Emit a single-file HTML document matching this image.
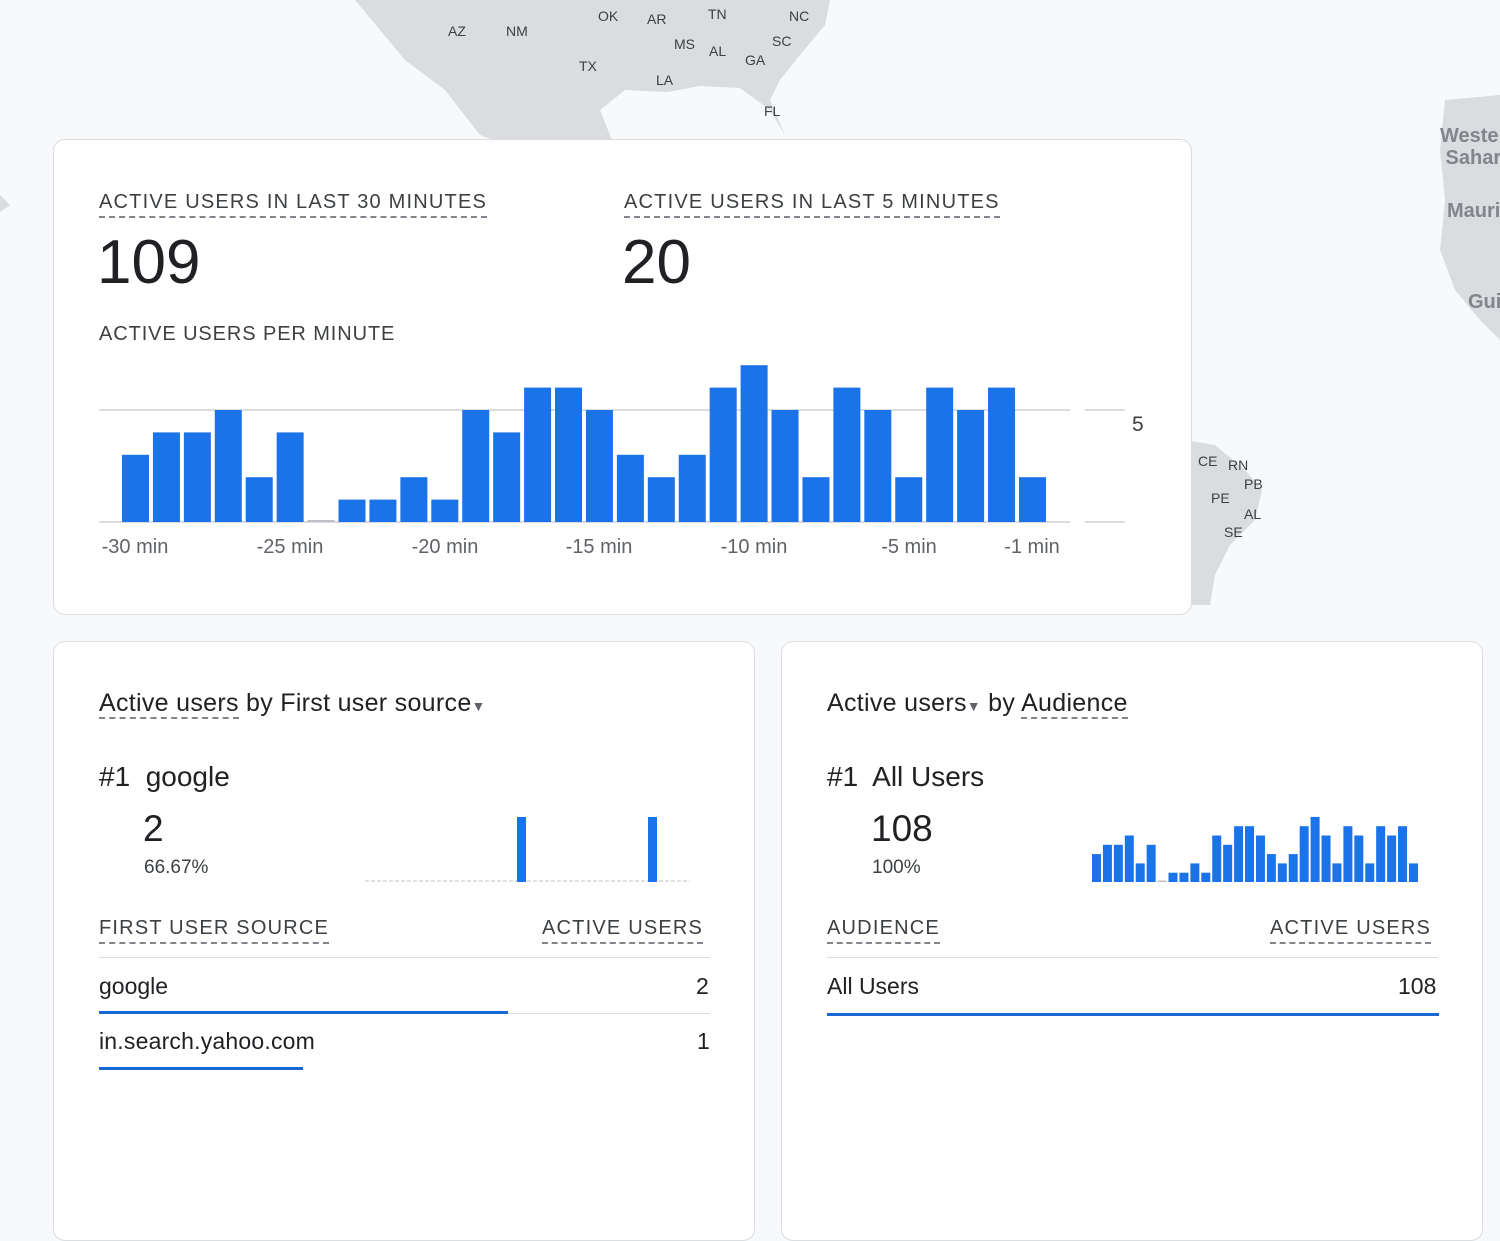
<!DOCTYPE html>
<html><head><meta charset="utf-8"><style>
body{margin:0;width:1500px;height:1214px;background:#f8f9fa;position:relative;overflow:hidden;font-family:"Liberation Sans",Arial,sans-serif;color:#202124}
.a{position:absolute;white-space:nowrap}
.card{position:absolute;background:#fff;border:1.5px solid #dadce0;border-radius:12px;box-sizing:border-box}
.cap{font-size:20px;letter-spacing:1.2px;color:#3c4043;border-bottom:2px dashed #80868b;padding-bottom:2px}
.ml{font-size:14px;color:#3c4043}
.ax{font-size:20px;color:#5f6368;transform:translateX(-50%)}
</style></head><body>
<svg class="a" style="left:0;top:0" width="1500" height="1214">
<polygon points="355,0 830,0 825,25 800,55 780,80 770,100 785,135 770,110 740,88 700,86 668,92 625,90 600,110 612,140 560,150 520,150 480,135 445,90 405,60 380,30" fill="#dadce0"/>
<polygon points="1445,100 1500,95 1500,340 1480,320 1455,290 1440,250 1445,200 1440,150" fill="#dadce0"/>
<polygon points="1185,440 1215,445 1245,470 1262,490 1255,520 1230,545 1215,575 1210,605 1185,605" fill="#dadce0"/>
<polygon points="0,195 10,205 0,212" fill="#dadce0"/>
</svg>
<div class="a ml" style="left:448px;top:23px">AZ</div>
<div class="a ml" style="left:506px;top:23px">NM</div>
<div class="a ml" style="left:598px;top:8px">OK</div>
<div class="a ml" style="left:647px;top:11px">AR</div>
<div class="a ml" style="left:708px;top:6px">TN</div>
<div class="a ml" style="left:789px;top:8px">NC</div>
<div class="a ml" style="left:674px;top:36px">MS</div>
<div class="a ml" style="left:709px;top:43px">AL</div>
<div class="a ml" style="left:772px;top:33px">SC</div>
<div class="a ml" style="left:745px;top:52px">GA</div>
<div class="a ml" style="left:579px;top:58px">TX</div>
<div class="a ml" style="left:656px;top:72px">LA</div>
<div class="a ml" style="left:764px;top:103px">FL</div>
<div class="a" style="left:1440px;top:125px;font-size:20px;font-weight:bold;color:#80868b;line-height:22px">Weste<br>&nbsp;Sahar</div>
<div class="a" style="left:1447px;top:200px;font-size:20px;font-weight:bold;color:#80868b">Mauri</div>
<div class="a" style="left:1468px;top:291px;font-size:20px;font-weight:bold;color:#80868b">Gui</div>
<div class="a ml" style="left:1198px;top:453px">CE</div><div class="a ml" style="left:1228px;top:457px">RN</div>
<div class="a ml" style="left:1244px;top:476px">PB</div><div class="a ml" style="left:1211px;top:490px">PE</div>
<div class="a ml" style="left:1244px;top:506px">AL</div><div class="a ml" style="left:1224px;top:524px">SE</div>

<div class="card" style="left:53px;top:139px;width:1139px;height:476px"></div>
<div class="a cap" style="left:99px;top:191px">ACTIVE USERS IN LAST 30 MINUTES</div>
<div class="a" style="left:97px;top:227px;font-size:62px">109</div>
<div class="a cap" style="left:624px;top:191px">ACTIVE USERS IN LAST 5 MINUTES</div>
<div class="a" style="left:622px;top:227px;font-size:62px">20</div>
<div class="a" style="left:99px;top:323px;font-size:20px;letter-spacing:0.9px;color:#3c4043">ACTIVE USERS PER MINUTE</div>
<svg class="a" style="left:0;top:0" width="1200" height="620">
<line x1="99" y1="410" x2="1070" y2="410" stroke="#dadce0" stroke-width="2"/>
<line x1="99" y1="522" x2="1070" y2="522" stroke="#dadce0" stroke-width="2"/>
<line x1="1085" y1="410" x2="1125" y2="410" stroke="#dadce0" stroke-width="2"/>
<line x1="1085" y1="522" x2="1125" y2="522" stroke="#dadce0" stroke-width="2"/>
<g id="b1" fill="#1a73e8"></g>
</svg>
<div class="a" style="left:1132px;top:413px;font-size:21px;color:#3c4043">5</div>
<div class="a ax" style="left:135px;top:536px">-30 min</div>
<div class="a ax" style="left:290px;top:536px">-25 min</div>
<div class="a ax" style="left:445px;top:536px">-20 min</div>
<div class="a ax" style="left:599px;top:536px">-15 min</div>
<div class="a ax" style="left:754px;top:536px">-10 min</div>
<div class="a ax" style="left:909px;top:536px">-5 min</div>
<div class="a ax" style="left:1032px;top:536px">-1 min</div>

<div class="card" style="left:53px;top:641px;width:702px;height:600px"></div>
<div class="a" style="left:99px;top:689px;font-size:25px;letter-spacing:0.3px"><span style="border-bottom:2px dashed #80868b">Active users</span> by First user source<span style="font-size:14px;color:#5f6368">▼</span></div>
<div class="a" style="left:99px;top:761px;font-size:28px">#1&nbsp; google</div>
<div class="a" style="left:143px;top:808px;font-size:37px">2</div>
<div class="a" style="left:144px;top:857px;font-size:19px;color:#3c4043">66.67%</div>
<svg class="a" style="left:360px;top:810px" width="340" height="80">
<line x1="5" y1="71" x2="330" y2="71" stroke="#bdc1c6" stroke-dasharray="4,2"/>
<rect x="157" y="7" width="9" height="65" fill="#1a73e8"/><rect x="288" y="7" width="9" height="65" fill="#1a73e8"/>
</svg>
<div class="a cap" style="left:99px;top:917px">FIRST USER SOURCE</div>
<div class="a cap" style="left:542px;top:917px">ACTIVE USERS</div>
<div class="a" style="left:99px;top:957px;width:611px;border-top:1.5px solid #dadce0"></div>
<div class="a" style="left:99px;top:973px;font-size:23px">google</div>
<div class="a" style="left:696px;top:973px;font-size:23px">2</div>
<div class="a" style="left:99px;top:1013px;width:611px;border-top:1.5px solid #dadce0"></div>
<div class="a" style="left:99px;top:1011px;width:409px;height:3px;background:#1967d2"></div>
<div class="a" style="left:99px;top:1028px;font-size:23px;letter-spacing:0.2px">in.search.yahoo.com</div>
<div class="a" style="left:697px;top:1028px;font-size:23px">1</div>
<div class="a" style="left:99px;top:1067px;width:204px;height:3px;background:#1967d2"></div>

<div class="card" style="left:781px;top:641px;width:702px;height:600px"></div>
<div class="a" style="left:827px;top:689px;font-size:25px;letter-spacing:0.3px">Active users<span style="font-size:14px;color:#5f6368">▼</span> by <span style="border-bottom:2px dashed #80868b">Audience</span></div>
<div class="a" style="left:827px;top:761px;font-size:28px">#1&nbsp; All Users</div>
<div class="a" style="left:871px;top:808px;font-size:37px">108</div>
<div class="a" style="left:872px;top:857px;font-size:19px;color:#3c4043">100%</div>
<svg class="a" style="left:0;top:0" width="1500" height="900"><g id="b2" fill="#1a73e8"></g></svg>
<div class="a cap" style="left:827px;top:917px">AUDIENCE</div>
<div class="a cap" style="left:1270px;top:917px">ACTIVE USERS</div>
<div class="a" style="left:827px;top:957px;width:611px;border-top:1.5px solid #dadce0"></div>
<div class="a" style="left:827px;top:973px;font-size:23px">All Users</div>
<div class="a" style="left:1398px;top:973px;font-size:23px">108</div>
<div class="a" style="left:827px;top:1013px;width:612px;height:3px;background:#1967d2"></div>
<script>
var v=[3,4,4,5,2,4,0,1,1,2,1,5,4,6,6,5,3,2,3,6,7,5,2,6,5,2,6,5,6,2];
var ns="http://www.w3.org/2000/svg",g1=document.getElementById('b1'),g2=document.getElementById('b2');
v.forEach(function(d,i){
 var r=document.createElementNS(ns,'rect');var x=122+i*30.93,h=d?d*22.4:2;
 r.setAttribute('x',x);r.setAttribute('width',27);r.setAttribute('y',522-h);r.setAttribute('height',h);
 if(!d)r.setAttribute('fill','#bdc1c6');g1.appendChild(r);
 var s=document.createElementNS(ns,'rect');var x2=1092+i*10.93,h2=d?d*9.3:1.5;
 s.setAttribute('x',x2);s.setAttribute('width',9);s.setAttribute('y',882-h2);s.setAttribute('height',h2);
 if(!d)s.setAttribute('fill','#bdc1c6');g2.appendChild(s);
});
</script>
</body></html>
